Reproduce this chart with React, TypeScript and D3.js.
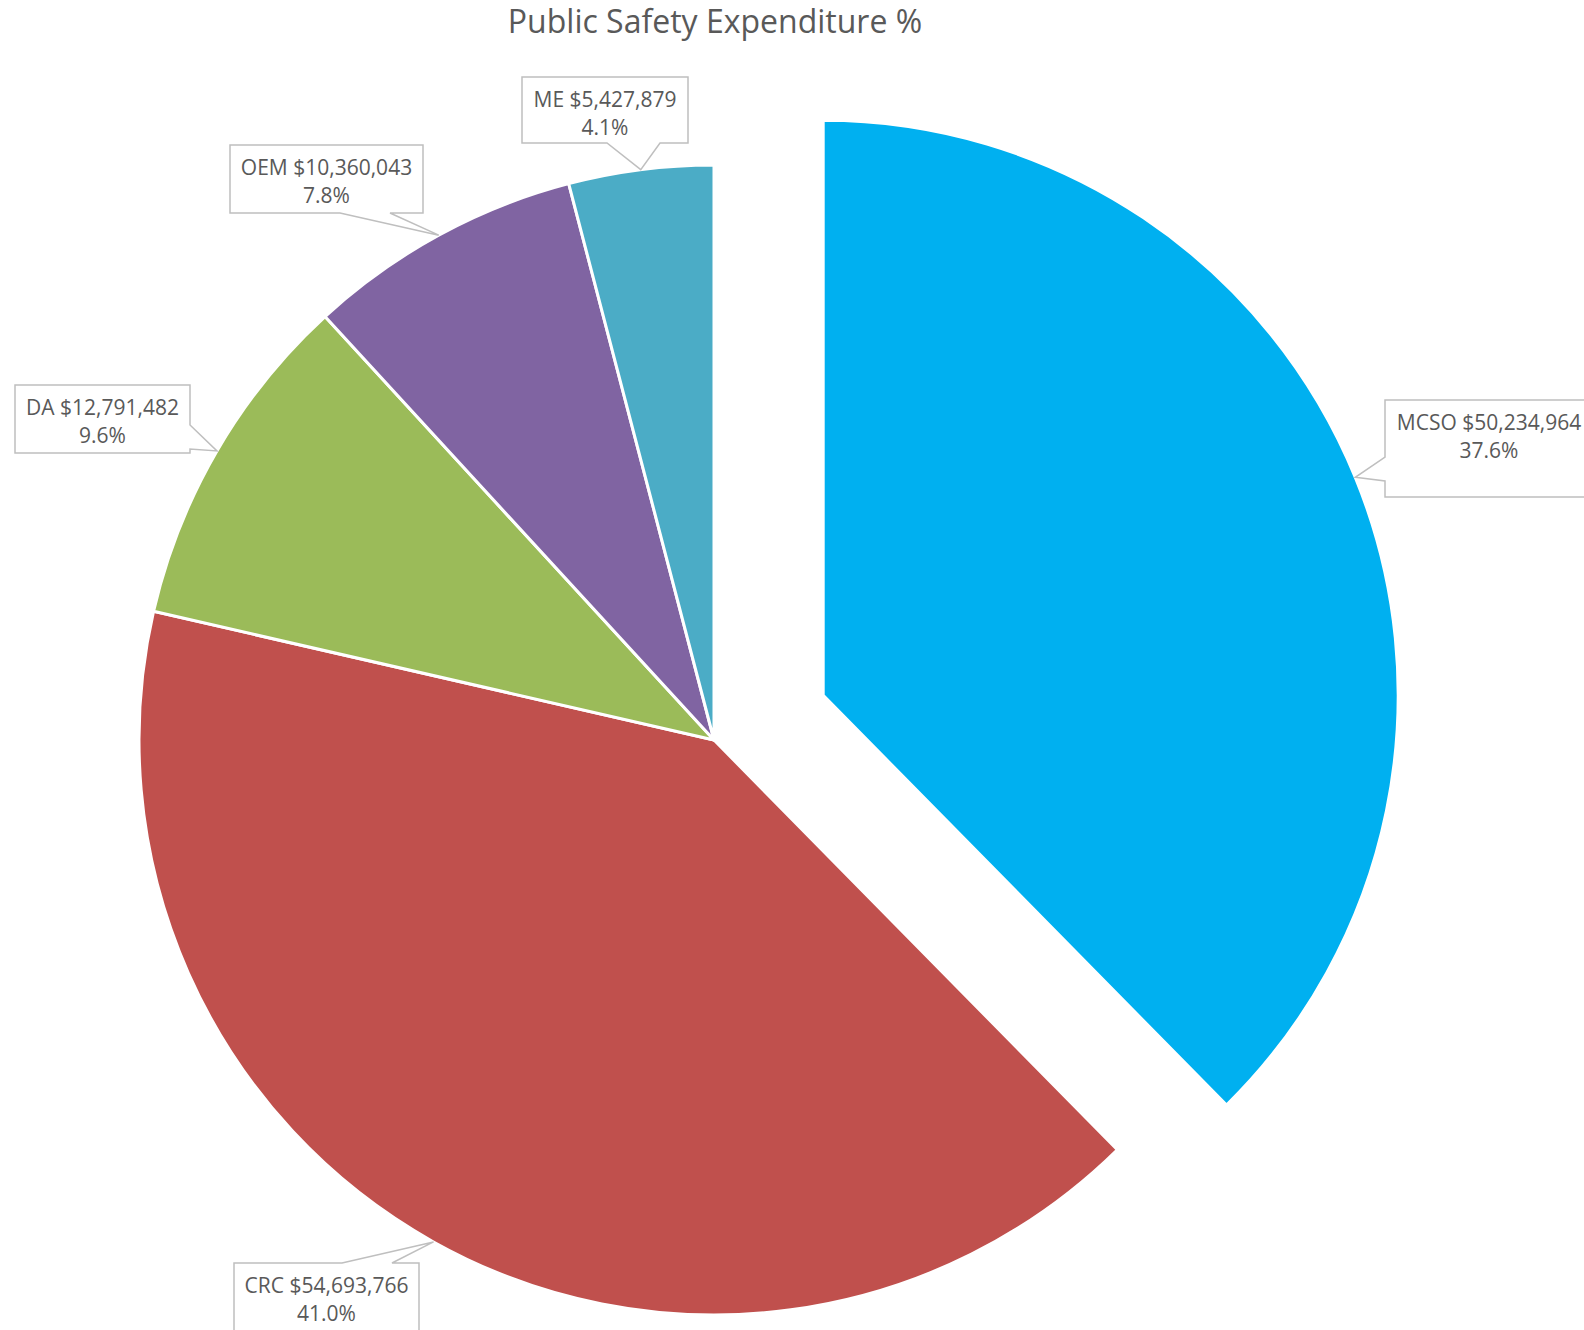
import React from "react";
import * as d3 from "d3";

const categories = ["MCSO", "CRC", "DA", "OEM", "ME"];
const values = [50234964, 54693766, 12791482, 10360043, 5427879];
const colors = ["#00B0F0", "#C0504D", "#9BBB59", "#8064A2", "#4BACC6"];
const exploded = ["MCSO"];
const title = "Public Safety Expenditure %";

// callout layout (box geometry and pointer placement)
const calloutBoxes = [
  { name: "MCSO", x: 1385, y: 400, w: 210, h: 97, side: "left", b0: 457, b1: 481 },
  { name: "CRC", x: 234, y: 1263, w: 185, h: 90, side: "top", b0: 342, b1: 392 },
  { name: "DA", x: 15, y: 385, w: 175, h: 68, side: "right", b0: 425, b1: 449 },
  { name: "OEM", x: 230, y: 145, w: 193, h: 68, side: "bottom", b0: 340, b1: 390 },
  { name: "ME", x: 522, y: 77, w: 166, h: 66, side: "bottom", b0: 607, b1: 660 },
];

const W = 1584;
const H = 1330;
const cx = 714;
const cy = 740;
const R = 575;
const explodeDist = 118;
const FONT = "'Open Sans', sans-serif";

function calloutPath(b: any, tx: number, ty: number) {
  const { x, y, w, h, side, b0, b1 } = b;
  const x2 = x + w;
  const y2 = y + h;
  const pts: [number, number][] = [];
  pts.push([x, y]);
  if (side === "top") {
    pts.push([b0, y], [tx, ty], [b1, y]);
  }
  pts.push([x2, y]);
  if (side === "right") {
    pts.push([x2, b0], [tx, ty], [x2, b1]);
  }
  pts.push([x2, y2]);
  if (side === "bottom") {
    pts.push([b1, y2], [tx, ty], [b0, y2]);
  }
  pts.push([x, y2]);
  if (side === "left") {
    pts.push([x, b1], [tx, ty], [x, b0]);
  }
  return "M" + pts.map((p) => p.join(",")).join("L") + "Z";
}

export default function App() {
  const total = d3.sum(values);
  const data = categories.map((c, i) => ({ name: c, value: values[i], color: colors[i] }));
  const pie = d3
    .pie<any>()
    .sort(null)
    .value((d) => d.value)
    .startAngle(0)
    .endAngle(2 * Math.PI);
  const arcs = pie(data);
  const arc = d3.arc<any>().innerRadius(0).outerRadius(R);
  const fmt = d3.format(",");
  const pct = d3.format(".1%");

  const slices = arcs.map((a) => {
    const mid = (a.startAngle + a.endAngle) / 2;
    const off = exploded.includes(a.data.name) ? explodeDist : 0;
    const ox = cx + Math.sin(mid) * off;
    const oy = cy - Math.cos(mid) * off;
    const tx = ox + Math.sin(mid) * R;
    const ty = oy - Math.cos(mid) * R;
    return { a, ox, oy, tx, ty };
  });

  return (
    <svg
      width={W}
      height={H}
      style={{ position: "absolute", left: 0, top: 0, background: "#fff" }}
    >
      <rect x={0} y={0} width={W} height={H} fill="#fff" />
      <text
        x={715}
        y={33}
        textAnchor="middle"
        fontFamily={FONT}
        fontSize={32}
        fill="#595959"
      >
        {title}
      </text>
      {slices.map((s) => (
        <path
          key={s.a.data.name}
          d={arc(s.a) as string}
          transform={`translate(${s.ox},${s.oy})`}
          fill={s.a.data.color}
          stroke="#fff"
          strokeWidth={3}
          strokeLinejoin="round"
        />
      ))}
      {calloutBoxes.map((b) => {
        const s = slices.find((q) => q.a.data.name === b.name)!;
        const d = s.a.data;
        const textX = b.name === "MCSO" ? 1489 : b.x + b.w / 2;
        return (
          <g key={b.name}>
            <path
              d={calloutPath(b, s.tx, s.ty)}
              fill="#fff"
              stroke="#BFBFBF"
              strokeWidth={1.5}
            />
            <text
              x={textX}
              y={b.y + 30}
              textAnchor="middle"
              fontFamily={FONT}
              fontSize={21}
              fill="#595959"
            >
              {`${d.name} $${fmt(d.value)}`}
            </text>
            <text
              x={textX}
              y={b.y + 58}
              textAnchor="middle"
              fontFamily={FONT}
              fontSize={21}
              fill="#595959"
            >
              {pct(d.value / total)}
            </text>
          </g>
        );
      })}
    </svg>
  );
}
